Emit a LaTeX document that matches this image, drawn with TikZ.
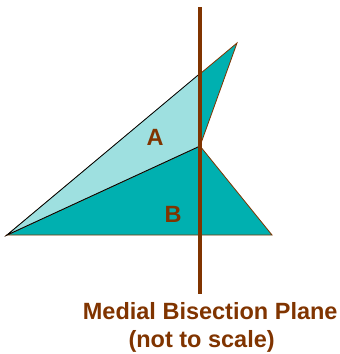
\documentclass[tikz,border=0pt]{standalone}
\usepackage{fontspec}
\setmainfont{Liberation Sans}
\definecolor{planebrown}{RGB}{128,52,0}
\definecolor{darkteal}{RGB}{0,176,176}
\definecolor{lightteal}{RGB}{158,224,224}

\begin{document}
\begin{tikzpicture}[x=1pt,y=-1pt,font=\fontsize{23.5}{28}\selectfont\bfseries]
  \useasboundingbox (0,0) rectangle (340,354);
  \coordinate (L) at (7,235);
  \coordinate (T) at (237,43);
  \coordinate (M) at (200,146);
  \coordinate (R) at (272,235);
  \coordinate (U) at (200,73.5);
  % lower triangle B
  \filldraw[fill=darkteal,draw=planebrown,line width=0.8pt] (L) -- (M) -- (R) -- cycle;
  % upper triangle, part A left of the plane
  \filldraw[fill=darkteal,draw=planebrown,line width=0.8pt] (L) -- (T) -- (M) -- cycle;
  \filldraw[fill=lightteal,draw=black,line width=0.8pt] (L) -- (U) -- (M) -- cycle;
  % the plane
  \draw[planebrown,line width=4.5pt] (200,7) coordinate (ptop) -- (200,294) coordinate (pbot);
  \node[planebrown] (a) at (155,137) {A};
  \node[planebrown] (b) at (173,214) {B};
  \node[planebrown,anchor=base west,inner sep=0pt] (title) at (82.7,319.3) {Medial Bisection Plane};
  \node[planebrown,anchor=base west,inner sep=0pt] (note) at (128.3,347) {(not to scale)};
\end{tikzpicture}
\end{document}
